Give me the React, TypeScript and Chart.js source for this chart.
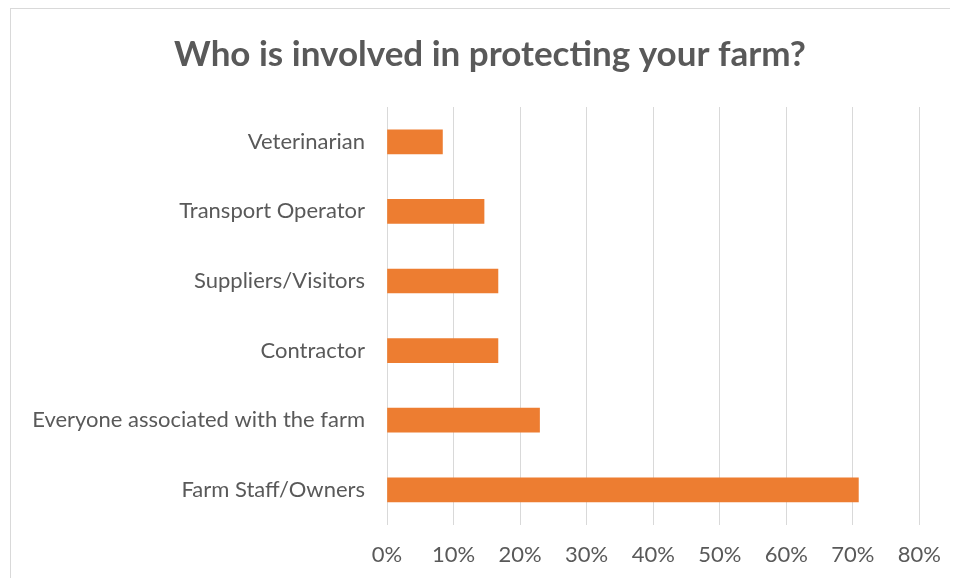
import React, { useEffect, useRef } from "react";
import { Chart, registerables } from "chart.js";

Chart.register(...registerables);

const title = "Who is involved in protecting your farm?";
const categories = [
  "Veterinarian",
  "Transport Operator",
  "Suppliers/Visitors",
  "Contractor",
  "Everyone associated with the farm",
  "Farm Staff/Owners",
];
const shares = [0.0833, 0.1458, 0.1667, 0.1667, 0.2292, 0.7083];
const xTicks = [0, 0.1, 0.2, 0.3, 0.4, 0.5, 0.6, 0.7, 0.8];

const FONT = "Lato, 'Open Sans', sans-serif";
const TEXT = "#595959";
const GRID = "#d9d9d9";
const BAR = "#ED7D31";

export default function App() {
  const ref = useRef<HTMLCanvasElement | null>(null);

  useEffect(() => {
    document.body.style.overflow = "hidden";
    const canvas = ref.current;
    if (!canvas) return;
    const chart = new Chart(canvas, {
      type: "bar",
      data: {
        labels: categories,
        datasets: [
          {
            label: "Share",
            data: shares,
            backgroundColor: BAR,
            borderWidth: 0,
            barThickness: 24,
          },
        ],
      },
      options: {
        indexAxis: "y",
        animation: false,
        responsive: false,
        layout: { padding: { left: 11, right: 0, top: 0, bottom: 0 } },
        plugins: {
          legend: { display: false },
          tooltip: { enabled: false },
          title: {
            display: true,
            text: title,
            color: TEXT,
            font: { family: FONT, size: 35, weight: "bold" },
            padding: { top: 25, bottom: 31 },
          },
        },
        scales: {
          x: {
            min: 0,
            max: 0.8,
            afterBuildTicks: (scale: any) => {
              scale.ticks = xTicks.map((v) => ({ value: v }));
            },
            afterFit: (scale: any) => {
              scale.height = scale.height - 7;
            },
            ticks: {
              callback: (v: any) => Math.round(Number(v) * 100) + "%",
              color: TEXT,
              font: { family: FONT, size: 22 },
              padding: 17,
              maxRotation: 0,
            },
            grid: { color: GRID, lineWidth: 1, drawTicks: false },
            border: { display: false },
          },
          y: {
            afterFit: (scale: any) => {
              scale.width = 365;
            },
            ticks: {
              color: TEXT,
              font: { family: FONT, size: 22 },
              padding: 22,
            },
            grid: { display: false, drawTicks: false },
            border: { display: true, color: GRID, width: 1 },
          },
        },
      },
    });
    return () => chart.destroy();
  }, []);

  return (
    <div
      style={{
        marginLeft: 2,
        width: 947,
        height: 569,
        borderLeft: "1px solid #d9d9d9",
        borderTop: "1px solid #d9d9d9",
        background: "#fff",
      }}
    >
      <canvas ref={ref} width={947} height={569} style={{ display: "block" }} />
    </div>
  );
}
